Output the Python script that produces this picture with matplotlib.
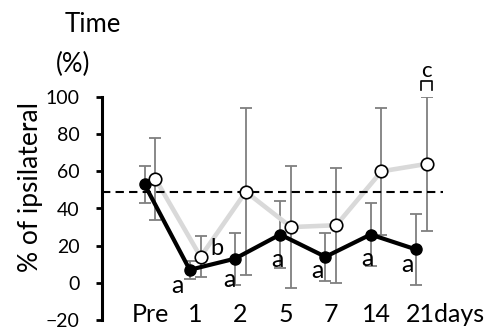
import matplotlib.pyplot as plt
import matplotlib.transforms as mtransforms
import numpy as np

# Data
days = ["Pre", "1", "2", "5", "7", "14", "21days"]
black_mean = [53, 7, 13, 26, 14, 26, 18]
black_err = [10, 5, 14, 18, 13, 17, 19]
white_mean = [56, 14, 49, 30, 31, 60, 64]
white_err = [22, 11, 45, 33, 31, 34, 36]
baseline = 49

black_labels = ["", "a", "a", "a", "a", "a", "a"]
white_labels = ["", "b", "", "", "", "", "c"]

plt.rcParams["font.family"] = ["Lato", "DejaVu Sans"]

fig = plt.figure(figsize=(4.89, 3.34), dpi=100)
ax = fig.add_axes([102 / 489, 14 / 334, 341 / 489, 223 / 334])

x = np.arange(len(days))
xb = x - 0.12
xw = x + 0.12

err_style = dict(fmt="none", ecolor="#7f7f7f", elinewidth=1.3, capsize=4, capthick=1.3)
ax.errorbar(xw, white_mean, yerr=white_err, zorder=1, **err_style)
ax.errorbar(xb, black_mean, yerr=black_err, zorder=1, **err_style)

ax.plot(xw, white_mean, color="#d9d9d9", lw=3.3, zorder=2)
ax.plot(xb, black_mean, color="black", lw=3, zorder=3)
ax.plot(xb, black_mean, "o", color="black", ms=8, zorder=4)
ax.plot(xw, white_mean, "o", mfc="white", mec="black", mew=1.2, ms=9, zorder=5)

ax.axhline(baseline, color="black", lw=1.5, ls=(0, (4, 2.5)), zorder=2)

# significance letters
b_off = [(0, 0), (-9, -11), (-4, -15), (-2, -18), (-6, -10), (-2, -17), (-6, -11)]
for xi, yi, lab, off in zip(xb, black_mean, black_labels, b_off):
    if lab:
        ax.annotate(lab, (xi, yi), xytext=off, textcoords="offset points",
                    ha="center", va="center", fontsize=18, zorder=6)
ax.annotate(white_labels[1], (xw[1], white_mean[1]), xytext=(12, 6),
            textcoords="offset points", ha="center", va="center", fontsize=17)
top21 = white_mean[6] + white_err[6]
ax.annotate(white_labels[6], (xw[6], top21), xytext=(0, 19),
            textcoords="offset points", ha="center", va="center", fontsize=16)
bx0, bx1 = xw[6] - 0.12, xw[6] + 0.12
ax.plot([bx0, bx0, bx1, bx1], [top21 + 3.5, top21 + 8.5, top21 + 8.5, top21 + 3.5],
        color="black", lw=1.2, clip_on=False)

ax.set_xlim(-1.06, 6.48)
ax.set_ylim(-20, 100)
ax.set_yticks(range(-20, 101, 20))
ax.set_xticks(x)
ax.set_xticklabels(days, fontsize=18)
ax.tick_params(axis="x", length=0, pad=-12.5)
ax.tick_params(axis="y", length=4, width=2, labelsize=14, pad=12)
last = ax.get_xticklabels()[-1]
last.set_ha("left")
last.set_transform(last.get_transform() + mtransforms.ScaledTranslation(-15 / 100, 0, fig.dpi_scale_trans))

for s in ["top", "right", "bottom"]:
    ax.spines[s].set_visible(False)
ax.spines["left"].set_linewidth(2.2)

fig.text(93 / 489, 1 - 24 / 334, "Time", ha="center", va="center", fontsize=18.5)
fig.text(73 / 489, 1 - 64 / 334, "(%)", ha="center", va="center", fontsize=18.5)
fig.text(31 / 489, 1 - 187 / 334, "% of ipsilateral", ha="center", va="center",
         rotation=90, fontsize=19)

fig.savefig("out.png", dpi=100)
